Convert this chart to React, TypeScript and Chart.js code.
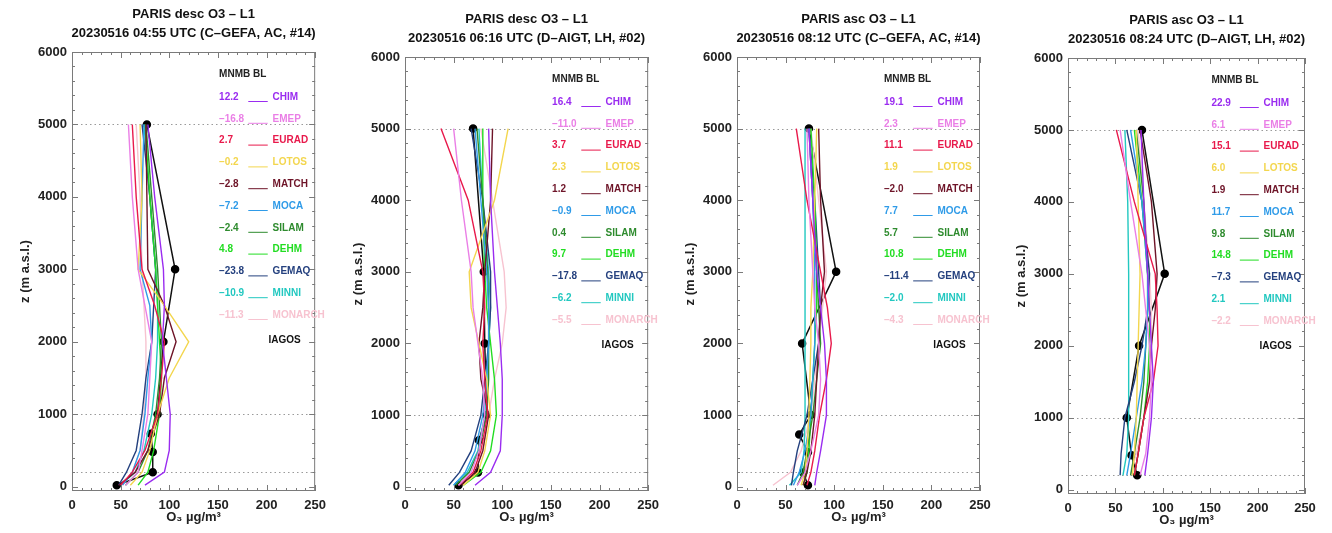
import React, { useEffect, useRef } from 'react';
import { Chart, registerables } from 'chart.js';

Chart.register(...registerables);

// ---------- data ----------
const MODELS = ['CHIM', 'EMEP', 'EURAD', 'LOTOS', 'MATCH', 'MOCA', 'SILAM', 'DEHM', 'GEMAQ', 'MINNI', 'MONARCH'];
const MODEL_COLORS = ['#9a2cf0', '#ea7fe6', '#e8194b', '#f3d64e', '#6e1428', '#2f9be8', '#2e8b2e', '#22dd22', '#24407e', '#22c8c0', '#f7c3d0'];

const TITLE_1 = ['PARIS desc O3 – L1', 'PARIS desc O3 – L1', 'PARIS asc O3 – L1', 'PARIS asc O3 – L1'];
const TITLE_2 = [
  '20230516 04:55 UTC (C–GEFA, AC, #14)',
  '20230516 06:16 UTC (D–AIGT, LH, #02)',
  '20230516 08:12 UTC (C–GEFA, AC, #14)',
  '20230516 08:24 UTC (D–AIGT, LH, #02)',
];

const X_TICKS = [0, 50, 100, 150, 200, 250];
const Y_TICKS = [0, 1000, 2000, 3000, 4000, 5000, 6000];
const REF_LEVELS = [200, 1000, 5000];

// MNMB BL values per panel (model order)
const P1_MNMB = ['12.2', '–16.8', '2.7', '–0.2', '–2.8', '–7.2', '–2.4', '4.8', '–23.8', '–10.9', '–11.3'];
const P2_MNMB = ['16.4', '–11.0', '3.7', '2.3', '1.2', '–0.9', '0.4', '9.7', '–17.8', '–6.2', '–5.5'];
const P3_MNMB = ['19.1', '2.3', '11.1', '1.9', '–2.0', '7.7', '5.7', '10.8', '–11.4', '–2.0', '–4.3'];
const P4_MNMB = ['22.9', '6.1', '15.1', '6.0', '1.9', '11.7', '9.8', '14.8', '–7.3', '2.1', '–2.2'];

// model altitudes (m a.s.l.)
const P1_ALT = [20, 200, 500, 1000, 1500, 2000, 2500, 3000, 4000, 5000];
const P2_ALT = [20, 200, 500, 1000, 1500, 2000, 2500, 3000, 4000, 5000];
const P3_ALT = [20, 200, 500, 1000, 1500, 2000, 2500, 3000, 4000, 5000];
const P4_ALT = [200, 500, 1000, 1500, 2000, 2500, 3000, 4000, 5000];

// model O3 values (µg/m3), rows in MODELS order
const P1_MODELS = [
  [75, 95, 100, 101, 97, 93, 95, 94, 85, 78],
  [55, 68, 72, 78, 80, 82, 75, 68, 62, 58],
  [50, 62, 75, 88, 92, 95, 85, 72, 66, 62],
  [60, 72, 80, 88, 100, 120, 95, 68, 72, 70],
  [48, 65, 78, 90, 95, 107, 95, 78, 77, 76],
  [52, 62, 70, 75, 78, 82, 80, 70, 72, 74],
  [55, 68, 78, 86, 90, 92, 90, 88, 82, 76],
  [68, 78, 84, 90, 92, 90, 88, 86, 80, 75],
  [48, 56, 66, 72, 76, 82, 84, 86, 80, 72],
  [50, 65, 74, 82, 86, 88, 88, 86, 80, 74],
  [52, 62, 70, 74, 76, 76, 74, 72, 70, 66],
];
const P2_MODELS = [
  [72, 88, 98, 100, 100, 98, 95, 92, 88, 86],
  [55, 68, 76, 82, 80, 75, 70, 68, 58, 50],
  [55, 70, 78, 85, 82, 80, 82, 80, 65, 37],
  [60, 75, 82, 88, 84, 76, 68, 66, 92, 106],
  [58, 72, 80, 86, 78, 76, 80, 82, 88, 90],
  [50, 62, 72, 80, 84, 86, 86, 84, 78, 72],
  [52, 66, 76, 84, 86, 86, 86, 85, 80, 74],
  [60, 78, 88, 94, 92, 88, 84, 82, 80, 80],
  [45, 56, 68, 78, 82, 86, 88, 88, 80, 68],
  [50, 64, 75, 82, 84, 86, 88, 86, 80, 76],
  [55, 70, 80, 86, 92, 100, 104, 102, 90, 78],
];
const P3_MODELS = [
  [80, 82, 86, 92, 92, 90, 86, 82, 78, 74],
  [62, 70, 76, 84, 86, 84, 80, 78, 74, 72],
  [72, 76, 80, 85, 92, 97, 93, 86, 72, 61],
  [66, 70, 72, 74, 75, 76, 76, 78, 80, 82],
  [68, 72, 76, 80, 82, 84, 86, 90, 86, 84],
  [58, 64, 70, 76, 78, 80, 80, 80, 78, 74],
  [62, 68, 72, 78, 82, 86, 84, 82, 78, 74],
  [68, 72, 74, 76, 78, 80, 82, 82, 80, 76],
  [56, 58, 62, 72, 78, 84, 86, 84, 80, 74],
  [54, 66, 69, 70, 70, 70, 70, 70, 70, 70],
  [37, 55, 66, 76, 80, 84, 88, 92, 84, 76],
];
const P4_MODELS = [
  [81, 84, 88, 90, 88, 86, 84, 80, 77],
  [76, 82, 86, 88, 86, 82, 78, 66, 55],
  [70, 74, 80, 90, 95, 94, 92, 70, 51],
  [68, 70, 72, 73, 74, 75, 76, 74, 72],
  [70, 74, 80, 86, 88, 92, 94, 88, 76],
  [62, 66, 72, 78, 82, 84, 84, 78, 66],
  [66, 70, 76, 80, 82, 84, 84, 80, 72],
  [70, 74, 80, 84, 86, 86, 84, 78, 70],
  [55, 56, 60, 70, 78, 84, 86, 78, 62],
  [58, 62, 64, 64, 64, 64, 64, 63, 60],
  [66, 72, 80, 86, 88, 88, 86, 80, 74],
];

// IAGOS observations
const P1_IAGOS_ALT = [20, 200, 480, 730, 1000, 2000, 3000, 5000];
const P1_IAGOS = [46, 83, 83, 81, 88, 94, 106, 77];
const P2_IAGOS_ALT = [20, 200, 650, 1000, 2000, 3000, 5000];
const P2_IAGOS = [55, 75, 76, 84, 82, 81, 70];
const P3_IAGOS_ALT = [20, 200, 480, 730, 1000, 2000, 3000, 5000];
const P3_IAGOS = [73, 68, 73, 64, 76, 67, 102, 74];
const P4_IAGOS_ALT = [200, 480, 1000, 2000, 3000, 5000];
const P4_IAGOS = [73, 67, 62, 75, 102, 78];

const PANELS = [
  { alt: P1_ALT, models: P1_MODELS, mnmb: P1_MNMB, iAlt: P1_IAGOS_ALT, iVal: P1_IAGOS },
  { alt: P2_ALT, models: P2_MODELS, mnmb: P2_MNMB, iAlt: P2_IAGOS_ALT, iVal: P2_IAGOS },
  { alt: P3_ALT, models: P3_MODELS, mnmb: P3_MNMB, iAlt: P3_IAGOS_ALT, iVal: P3_IAGOS },
  { alt: P4_ALT, models: P4_MODELS, mnmb: P4_MNMB, iAlt: P4_IAGOS_ALT, iVal: P4_IAGOS },
];

// ---------- layout ----------
const CANVAS_W = 333;
const CANVAS_H = 533;
const AXIS_W = 72;
const BOXES = [
  { left: 72, right: 320, top: 52, bottom: 491 },
  { left: 405, right: 650, top: 57, bottom: 491 },
  { left: 737, right: 980, top: 57, bottom: 491 },
  { left: 1068, right: 1305, top: 58, bottom: 494 },
];
const FONT = '"Liberation Sans", Arial, Helvetica, sans-serif';

function makeDecor(i: number) {
  return {
    id: 'decor' + i,
    beforeDatasetsDraw(chart: any) {
      const { ctx, chartArea: ca, scales } = chart;
      ctx.save();
      ctx.strokeStyle = '#9a9a9a';
      ctx.lineWidth = 1;
      ctx.setLineDash([1.5, 3]);
      REF_LEVELS.forEach((lv) => {
        const y = Math.round(scales.y.getPixelForValue(lv)) + 0.5;
        ctx.beginPath();
        ctx.moveTo(ca.left, y);
        ctx.lineTo(ca.right, y);
        ctx.stroke();
      });
      ctx.restore();
    },
    afterDraw(chart: any) {
      const { ctx, chartArea: ca, scales } = chart;
      const w = ca.right - ca.left;
      const p = PANELS[i];
      ctx.save();
      // box
      ctx.strokeStyle = '#7a7a7a';
      ctx.lineWidth = 1;
      ctx.strokeRect(ca.left + 0.5, ca.top + 0.5, w - 1, ca.bottom - ca.top - 1);
      // ticks (inward)
      ctx.beginPath();
      for (let v = 0; v <= 250; v += 10) {
        const x = Math.round(scales.x.getPixelForValue(v)) + 0.5;
        const len = v % 50 === 0 ? 6 : 3;
        ctx.moveTo(x, ca.bottom);
        ctx.lineTo(x, ca.bottom - len);
        ctx.moveTo(x, ca.top);
        ctx.lineTo(x, ca.top + len);
      }
      for (let v = 0; v <= 6000; v += 200) {
        const y = Math.round(scales.y.getPixelForValue(v)) + 0.5;
        const len = v % 1000 === 0 ? 6 : 3;
        ctx.moveTo(ca.left, y);
        ctx.lineTo(ca.left + len, y);
        ctx.moveTo(ca.right, y);
        ctx.lineTo(ca.right - len, y);
      }
      ctx.stroke();

      // titles
      const cx = (ca.left + ca.right) / 2;
      ctx.fillStyle = '#111';
      ctx.textAlign = 'center';
      ctx.textBaseline = 'middle';
      ctx.font = 'bold 13px ' + FONT;
      ctx.fillText(TITLE_1[i], cx, ca.top - 38);
      ctx.fillText(TITLE_2[i], cx, ca.top - 19);

      // axis titles
      ctx.fillStyle = '#222';
      ctx.font = 'bold 13px ' + FONT;
      ctx.fillText('O₃ µg/m³', cx, ca.bottom + 26);
      ctx.save();
      ctx.translate(ca.left - 47, (ca.top + ca.bottom) / 2);
      ctx.rotate(-Math.PI / 2);
      ctx.fillText('z (m a.s.l.)', 0, 0);
      ctx.restore();

      // legend
      ctx.textAlign = 'left';
      ctx.font = 'bold 10px ' + FONT;
      const xv = ca.left + 0.605 * w;
      const xl0 = ca.left + 0.725 * w;
      const xl1 = ca.left + 0.805 * w;
      const xn = ca.left + 0.825 * w;
      ctx.fillStyle = '#222';
      ctx.fillText('MNMB BL', xv, ca.top + 22);
      MODELS.forEach((m, k) => {
        const y = ca.top + 45 + k * 21.8;
        const col = MODEL_COLORS[k];
        ctx.fillStyle = col;
        ctx.fillText(p.mnmb[k], xv, y);
        ctx.fillText(m, xn, y);
        ctx.strokeStyle = col;
        ctx.lineWidth = 1;
        ctx.beginPath();
        ctx.moveTo(xl0, y + 4.5);
        ctx.lineTo(xl1, y + 4.5);
        ctx.stroke();
      });
      ctx.fillStyle = '#111';
      ctx.fillText('IAGOS', ca.left + 0.808 * w, ca.top + 288);
      ctx.restore();
    },
  };
}

function Panel({ index }: { index: number }) {
  const ref = useRef<HTMLCanvasElement | null>(null);
  const box = BOXES[index];
  const canvasLeft = box.left - AXIS_W;

  useEffect(() => {
    if (!ref.current) return;
    const p = PANELS[index];
    const datasets: any[] = MODELS.map((m, k) => ({
      label: m,
      data: p.alt.map((a, j) => ({ x: p.models[k][j], y: a })),
      showLine: true,
      borderColor: MODEL_COLORS[k],
      backgroundColor: MODEL_COLORS[k],
      borderWidth: 1.4,
      pointRadius: 0,
      tension: 0,
    }));
    datasets.push({
      label: 'IAGOS',
      data: p.iAlt.map((a, j) => ({ x: p.iVal[j], y: a })),
      showLine: true,
      borderColor: '#111',
      backgroundColor: '#111',
      borderWidth: 1.5,
      pointRadius: 3.5,
      pointBackgroundColor: '#000',
      pointBorderColor: '#000',
      tension: 0,
    });

    const tickFont = { family: FONT, size: 13, weight: 'bold' as const };
    const chart = new Chart(ref.current, {
      type: 'scatter',
      data: { datasets },
      options: {
        animation: false,
        responsive: false,
        maintainAspectRatio: false,
        layout: {
          padding: { left: 0, top: box.top, right: CANVAS_W - AXIS_W - (box.right - box.left), bottom: 0 },
        },
        plugins: { legend: { display: false }, tooltip: { enabled: false }, title: { display: false } },
        scales: {
          x: {
            type: 'linear',
            min: 0,
            max: 250,
            grid: { display: false, drawTicks: false },
            border: { display: false },
            ticks: { font: tickFont, color: '#222', padding: 7, maxRotation: 0, autoSkip: false, callback: (v: any) => String(v) },
            afterBuildTicks: (s: any) => {
              s.ticks = X_TICKS.map((v) => ({ value: v }));
            },
            afterFit: (s: any) => {
              s.height = CANVAS_H - box.bottom;
            },
          },
          y: {
            type: 'linear',
            min: -60,
            max: 6000,
            grid: { display: false, drawTicks: false },
            border: { display: false },
            ticks: { font: tickFont, color: '#222', padding: 5, autoSkip: false, callback: (v: any) => String(v) },
            afterBuildTicks: (s: any) => {
              s.ticks = Y_TICKS.map((v) => ({ value: v }));
            },
            afterFit: (s: any) => {
              s.width = AXIS_W;
            },
          },
        },
      },
      plugins: [makeDecor(index)],
    });
    return () => chart.destroy();
  }, [index]);

  return (
    <canvas
      ref={ref}
      width={CANVAS_W}
      height={CANVAS_H}
      style={{ position: 'absolute', left: canvasLeft, top: 0, width: CANVAS_W, height: CANVAS_H }}
    />
  );
}

export default function App() {
  useEffect(() => {
    document.body.style.margin = '0';
    document.body.style.background = '#fff';
  }, []);
  return (
    <div style={{ position: 'relative', width: 1332, height: 533, background: '#fff', overflow: 'hidden' }}>
      {[0, 1, 2, 3].map((i) => (
        <Panel key={i} index={i} />
      ))}
    </div>
  );
}
